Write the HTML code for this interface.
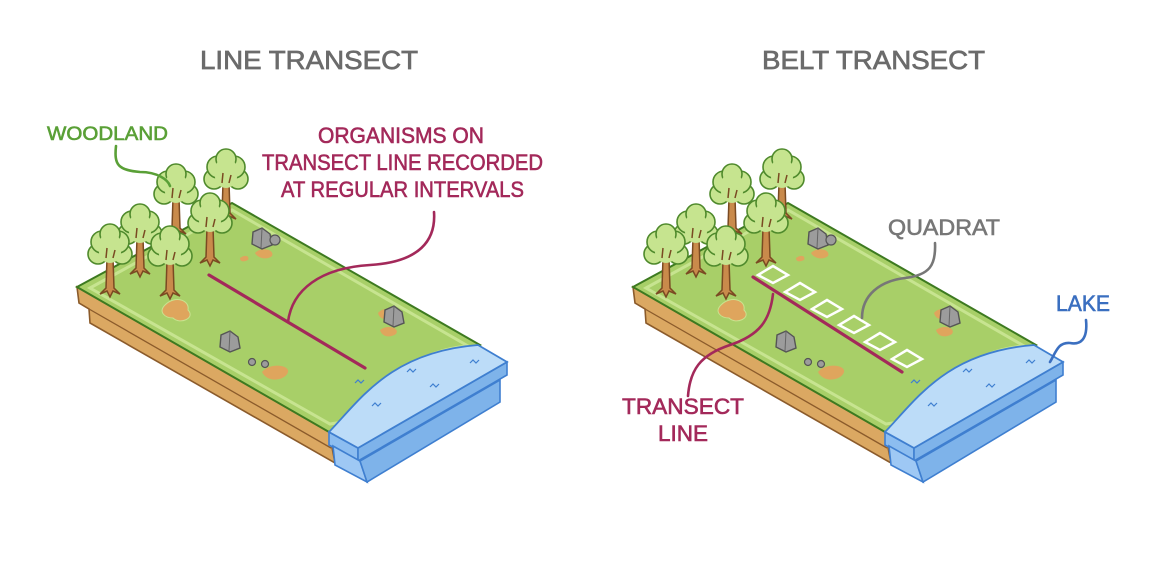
<!DOCTYPE html>
<html><head><meta charset="utf-8"><style>
html,body{margin:0;padding:0;background:#fff}
svg{display:block}
text{font-family:"Liberation Sans",sans-serif}
</style></head><body>
<svg width="1176" height="562" viewBox="0 0 1176 562" xmlns="http://www.w3.org/2000/svg">
<defs>
<g id="tree">
  <path d="M-4,0 L-3,-30 L3,-30 L4,0 L10,6 L3,3 L0,9 L-3,3 L-10,6 Z" fill="#c98a4b" stroke="#7a4a22" stroke-width="1.5"/>
  <g fill="#c6e48f" stroke="#4f8a2c" stroke-width="1.6">
    <circle cx="-12" cy="-34" r="10"/><circle cx="12" cy="-34" r="10"/>
    <circle cx="-8" cy="-46" r="11"/><circle cx="8" cy="-46" r="11"/><circle cx="0" cy="-54" r="10"/>
    <circle cx="0" cy="-36" r="11" stroke="none"/><circle cx="0" cy="-44" r="11" stroke="none"/>
  </g>
  <path d="M-4,-30 L-3,-40 M3,-30 L5,-38" stroke="#7a4a22" stroke-width="1.5" fill="none"/>
</g>
<g id="rock">
  <path d="M-10,4 L-9,-8 L0,-12 L8,-6 L10,5 L0,9 Z" fill="#9c9c9c" stroke="#555" stroke-width="1.4"/>
  <path d="M0,-12 L-1,8" stroke="#666" stroke-width="1" fill="none"/>
</g>
<g id="blk">
  <polygon points="77,287 329,432 335,463 90,323 89,309 79,303" fill="#dba862" stroke="#8b5b2b" stroke-width="1.6"/>
  <polyline points="79,303 89,309 331,448" fill="none" stroke="#8b5b2b" stroke-width="1.3"/>
  <polygon points="77,287 232,203 480,345 329,432" fill="#a8cf68" stroke="#3d7a20" stroke-width="2"/>
  <path d="M90,288 L232,210 L468,346 C420,350 380,380 355,420 L330,424 Z" fill="none" stroke="#c7e490" stroke-width="3"/>
  <path d="M165,305 C175,295 190,300 188,310 C196,318 180,325 173,318 C165,318 158,312 165,305Z" fill="#dfa55d" stroke="#c9e38f" stroke-width="1"/>
  <path d="M262,372 C270,362 290,365 288,372 C286,380 268,384 262,372Z" fill="#dfa55d"/>
  <path d="M255,253 C262,246 275,250 272,256 C268,260 258,259 255,253Z" fill="#dfa55d"/>
  <path d="M240,258 C245,254 250,256 248,260 C244,262 240,262 240,258Z" fill="#dfa55d"/>
  <path d="M378,313 C384,306 393,310 390,316 C386,320 380,320 378,313Z" fill="#dfa55d"/>
  <path d="M380,330 C388,324 400,328 396,334 C390,338 382,337 380,330Z" fill="#dfa55d"/>
  <use href="#rock" x="262" y="240"/>
  <circle cx="275" cy="240" r="5" fill="#9c9c9c" stroke="#555" stroke-width="1.2"/>
  <use href="#rock" x="230" y="343"/>
  <circle cx="252" cy="362" r="3.5" fill="#9c9c9c" stroke="#555" stroke-width="1.2"/>
  <circle cx="265" cy="364" r="3.5" fill="#9c9c9c" stroke="#555" stroke-width="1.2"/>
  <use href="#rock" x="394" y="318"/>
  <polygon points="329,432 358,448 358,461 329,445" fill="#8cbdf0" stroke="#3f7fd0" stroke-width="1.6"/>
  <polygon points="358,448 507,362 507,375 358,461" fill="#7eb3ea" stroke="#3f7fd0" stroke-width="1.6"/>
  <polygon points="333,446 360,461 367,482 335,465" fill="#9ec8f4" stroke="#3f7fd0" stroke-width="1.6"/>
  <polygon points="360,461 500,380 500,402 367,482" fill="#7eb3ea" stroke="#3f7fd0" stroke-width="1.6"/>
  <path d="M329,432 C360,400 390,352 478,345 L507,362 L358,448 Z" fill="#bcdcf8" stroke="#3f7fd0" stroke-width="1.8"/>
  <g stroke="#3f7fd0" stroke-width="1.2" fill="none">
    <path d="M355,383 l3,-3 l3,3 l3,-3"/><path d="M407,372 l3,-3 l3,3 l3,-3"/>
    <path d="M430,387 l3,-3 l3,3 l3,-3"/><path d="M372,406 l3,-3 l3,3 l3,-3"/><path d="M470,363 l3,-3 l3,3 l3,-3"/>
  </g>
  <use href="#tree" x="226" y="213"/>
  <use href="#tree" x="176" y="228"/>
  <use href="#tree" x="210" y="257"/>
  <use href="#tree" x="140" y="268"/>
  <use href="#tree" x="110" y="288"/>
  <use href="#tree" x="170" y="290"/>
</g>
</defs>

<use href="#blk"/>
<use href="#blk" x="556"/>

<line x1="209" y1="275" x2="365" y2="368" stroke="#a3295a" stroke-width="3.2" stroke-linecap="round"/>
<path d="M434,212 C436,240 420,262 370,265 C320,268 292,290 288,322" fill="none" stroke="#a3295a" stroke-width="2.6" stroke-linecap="round"/>
<path d="M116,146 C114,165 118,170 140,172 C158,172 168,180 170,186" fill="none" stroke="#5aa037" stroke-width="2.6" stroke-linecap="round"/>

<line x1="753" y1="277" x2="902" y2="372" stroke="#a3295a" stroke-width="3.2" stroke-linecap="round"/>
<g fill="none" stroke="#fff" stroke-width="2.5">
  <polygon points="773,266 788,275 773,283 758,275"/>
  <polygon points="800,283 815,292 800,300 785,292"/>
  <polygon points="827,300 842,309 827,317 812,309"/>
  <polygon points="854,316 869,325 854,333 839,325"/>
  <polygon points="880,333 895,342 880,350 865,342"/>
  <polygon points="907,350 922,359 907,367 892,359"/>
</g>
<path d="M935,243 C936,265 930,275 905,278 C880,281 862,295 862,318" fill="none" stroke="#777" stroke-width="2.6" stroke-linecap="round"/>
<path d="M773,294 C770,320 760,335 730,345 C700,355 690,370 688,396" fill="none" stroke="#a3295a" stroke-width="2.6" stroke-linecap="round"/>
<path d="M1086,320 C1088,340 1080,345 1070,343 C1058,342 1056,352 1050,362" fill="none" stroke="#3b6fc0" stroke-width="2.6" stroke-linecap="round"/>

<g stroke-width="0.7" lengthAdjust="spacingAndGlyphs">
<text x="200" y="69" font-size="26" fill="#6b6b6b" stroke="#6b6b6b" stroke-width="0.7" textLength="218" lengthAdjust="spacingAndGlyphs">LINE TRANSECT</text>
<text x="762" y="69" font-size="26" fill="#6b6b6b" stroke="#6b6b6b" stroke-width="0.7" textLength="223" lengthAdjust="spacingAndGlyphs">BELT TRANSECT</text>
<text x="47" y="140" font-size="19" fill="#5aa037" stroke="#5aa037" stroke-width="0.6" textLength="121" lengthAdjust="spacingAndGlyphs">WOODLAND</text>
<g font-size="22" fill="#a3295a" stroke="#a3295a" stroke-width="0.6">
  <text x="318" y="143" textLength="166" lengthAdjust="spacingAndGlyphs">ORGANISMS ON</text>
  <text x="262" y="170" textLength="281" lengthAdjust="spacingAndGlyphs">TRANSECT LINE RECORDED</text>
  <text x="281" y="197" textLength="243" lengthAdjust="spacingAndGlyphs">AT REGULAR INTERVALS</text>
  <text x="622" y="414" textLength="122" lengthAdjust="spacingAndGlyphs">TRANSECT</text>
  <text x="658" y="441" textLength="50" lengthAdjust="spacingAndGlyphs">LINE</text>
</g>
<text x="888" y="235" font-size="22" fill="#777" stroke="#777" stroke-width="0.6" textLength="112" lengthAdjust="spacingAndGlyphs">QUADRAT</text>
<text x="1056" y="311" font-size="22" fill="#3b6fc0" stroke="#3b6fc0" stroke-width="0.6" textLength="54" lengthAdjust="spacingAndGlyphs">LAKE</text>
</g>
</svg>
</body></html>
